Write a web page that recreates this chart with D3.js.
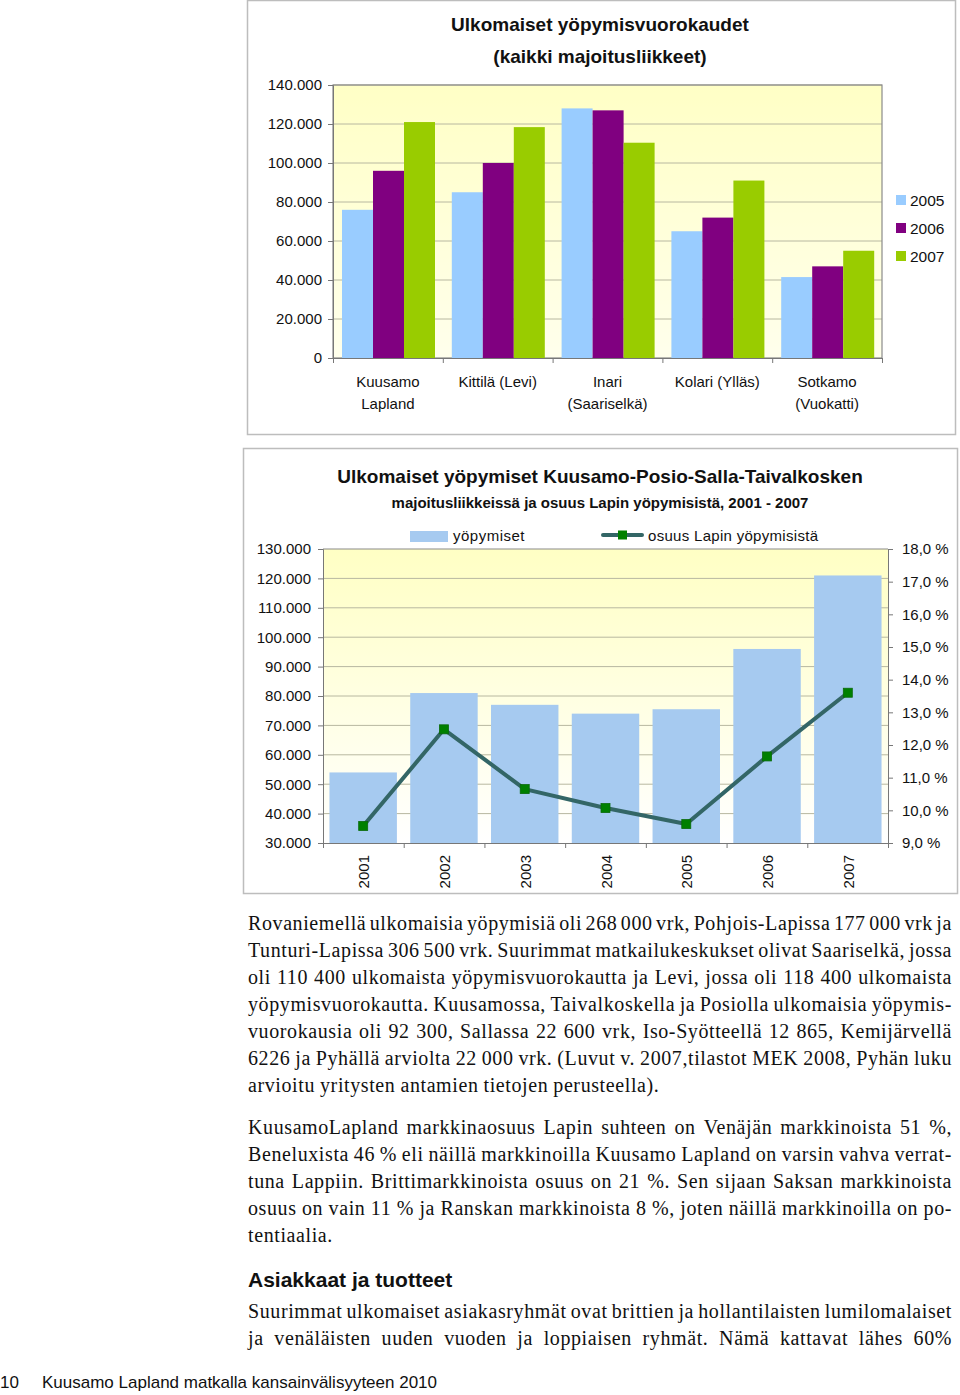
<!DOCTYPE html>
<html>
<head>
<meta charset="utf-8">
<script src="https://cdn.jsdelivr.net/npm/d3@7"></script>
<style>
  body { margin: 0; background: #fff; }
  svg { display: block; }
</style>
</head>
<body>
<svg id="page"></svg>
<script>
// chart 1 data
let places = [['Kuusamo', 'Lapland'], ['Kittilä (Levi)'], ['Inari', '(Saariselkä)'], ['Kolari (Ylläs)'], ['Sotkamo', '(Vuokatti)']]
let years1 = ['2005', '2006', '2007']
let v2005 = [76000, 85000, 128000, 65000, 41500]
let v2006 = [96000, 100000, 127000, 72000, 47000]
let v2007 = [121000, 118400, 110400, 91000, 55000]
let ticks1 = [0, 20000, 40000, 60000, 80000, 100000, 120000, 140000]

// chart 2 data
let years2 = ['2001', '2002', '2003', '2004', '2005', '2006', '2007']
let stays = [54000, 81000, 77000, 74000, 75500, 96000, 121000]
let share = [9.52, 12.48, 10.65, 10.07, 9.58, 11.65, 13.6]
let ticks2 = [30000, 40000, 50000, 60000, 70000, 80000, 90000, 100000, 110000, 120000, 130000]
let ticks2r = [9, 10, 11, 12, 13, 14, 15, 16, 17, 18]

// body text
let para1 = [
  'Rovaniemellä ulkomaisia yöpymisiä oli 268 000 vrk, Pohjois-Lapissa 177 000 vrk ja',
  'Tunturi-Lapissa 306 500 vrk. Suurimmat matkailukeskukset olivat Saariselkä, jossa',
  'oli 110 400 ulkomaista yöpymisvuorokautta ja Levi, jossa oli 118 400 ulkomaista',
  'yöpymisvuorokautta. Kuusamossa, Taivalkoskella ja Posiolla ulkomaisia yöpymis-',
  'vuorokausia oli 92 300, Sallassa 22 600 vrk, Iso-Syötteellä 12 865, Kemijärvellä',
  '6226 ja Pyhällä arviolta 22 000 vrk. (Luvut v. 2007,tilastot MEK 2008, Pyhän luku',
  'arvioitu yritysten antamien tietojen perusteella).'
]
let para2 = [
  'KuusamoLapland markkinaosuus Lapin suhteen on Venäjän markkinoista 51 %,',
  'Beneluxista 46 % eli näillä markkinoilla Kuusamo Lapland on varsin vahva verrat-',
  'tuna Lappiin. Brittimarkkinoista osuus on 21 %. Sen sijaan Saksan markkinoista',
  'osuus on vain 11 % ja Ranskan markkinoista 8 %, joten näillä markkinoilla on po-',
  'tentiaalia.'
]
let para3 = [
  'Suurimmat ulkomaiset asiakasryhmät ovat brittien ja hollantilaisten lumilomalaiset',
  'ja venäläisten uuden vuoden ja loppiaisen ryhmät. Nämä kattavat lähes 60%'
]

let width = 960
let height = 1395
let sans = 'Liberation Sans, Arial, sans-serif'
let serif = 'Liberation Serif, Times New Roman, serif'

let svg = d3.select('#page').attr('width', width).attr('height', height)
let defs = svg.append('defs')
let grad = defs.append('linearGradient').attr('id', 'bg').attr('x1', 0).attr('y1', 0).attr('x2', 0).attr('y2', 1)
grad.append('stop').attr('offset', '0%').attr('stop-color', '#ffffc4')
grad.append('stop').attr('offset', '100%').attr('stop-color', '#ffffff')

let fmt = (d) => d === 0 ? '0' : d3.format(',')(d).replace(/,/g, '.')

// ---------- chart 1 ----------
let drawChart1 = () => {
  let left = 333, right = 882, top = 85, bottom = 358
  svg.append('rect').attr('x', 247.5).attr('y', 0.5).attr('width', 708).attr('height', 434)
    .attr('fill', '#fff').attr('stroke', '#bdbdbd').attr('stroke-width', 1.5)

  let xScale = d3.scaleBand().domain(d3.range(places.length)).range([left, right])
  let yScale = d3.scaleLinear().domain([0, 140000]).range([bottom, top])
  let inner = d3.scaleBand().domain(years1).range([0, 93])
  let g = svg.append('g')

  g.append('rect').attr('x', left).attr('y', top).attr('width', right - left).attr('height', bottom - top)
    .attr('fill', 'url(#bg)')
  g.append('rect').attr('x', left).attr('y', top).attr('width', right - left).attr('height', bottom - top)
    .attr('fill', '#ffffc8').attr('opacity', 0.35)

  g.selectAll('.grid1').data(ticks1.slice(1)).enter().append('line')
    .attr('x1', left).attr('x2', right)
    .attr('y1', (d) => yScale(d)).attr('y2', (d) => yScale(d))
    .attr('stroke', '#b8b8a0').attr('stroke-width', 1)
  g.append('rect').attr('x', left).attr('y', top).attr('width', right - left).attr('height', bottom - top)
    .attr('fill', 'none').attr('stroke', '#8a8a8a').attr('stroke-width', 1.2)

  let series = [v2005, v2006, v2007]
  let colors = ['#99ccff', '#800080', '#99cc00']
  series.forEach((vals, s) => {
    g.selectAll('.bar' + s).data(vals).enter().append('rect')
      .attr('x', (d, i) => xScale(i) + 9 + inner(years1[s]))
      .attr('y', (d) => yScale(d))
      .attr('width', inner.bandwidth())
      .attr('height', (d) => bottom - yScale(d))
      .attr('fill', colors[s])
  })

  let yAxis = d3.axisLeft(yScale).tickValues(ticks1).tickFormat(fmt).tickSize(5)
  let ya = svg.append('g').attr('transform', 'translate(' + left + ',0)').call(yAxis)
  ya.select('.domain').attr('stroke', '#777')
  ya.selectAll('.tick line').attr('stroke', '#777')
  ya.selectAll('text').attr('font-family', sans).attr('font-size', 15).attr('fill', '#111').attr('x', -11)

  let xAxis = d3.axisBottom(d3.scaleLinear().domain([0, 5]).range([left, right])).ticks(5).tickSize(5).tickFormat('')
  let xa = svg.append('g').attr('transform', 'translate(0,' + bottom + ')').call(xAxis)
  xa.select('.domain').attr('stroke', '#777')
  xa.selectAll('.tick line').attr('stroke', '#777')

  places.forEach((lines, i) => {
    let t = svg.append('text').attr('font-family', sans).attr('font-size', 15).attr('fill', '#111')
      .attr('text-anchor', 'middle')
    lines.forEach((ln, k) => {
      t.append('tspan').attr('x', xScale(i) + xScale.bandwidth() / 2).attr('y', 387 + k * 22).text(ln)
    })
  })

  svg.append('text').attr('x', 600).attr('y', 31).attr('text-anchor', 'middle')
    .attr('font-family', sans).attr('font-weight', 'bold').attr('font-size', 19).attr('fill', '#111')
    .text('Ulkomaiset yöpymisvuorokaudet')
  svg.append('text').attr('x', 600).attr('y', 63).attr('text-anchor', 'middle')
    .attr('font-family', sans).attr('font-weight', 'bold').attr('font-size', 19).attr('fill', '#111')
    .text('(kaikki majoitusliikkeet)')

  years1.forEach((yr, s) => {
    svg.append('rect').attr('x', 896).attr('y', 195 + s * 28).attr('width', 10).attr('height', 10).attr('fill', colors[s])
    svg.append('text').attr('x', 910).attr('y', 206 + s * 28).attr('font-family', sans).attr('font-size', 15.5)
      .attr('fill', '#111').text(yr)
  })
}

// ---------- chart 2 ----------
let drawChart2 = () => {
  let left = 323, right = 888, top = 549, bottom = 843
  svg.append('rect').attr('x', 243.5).attr('y', 448.5).attr('width', 714).attr('height', 445)
    .attr('fill', '#fff').attr('stroke', '#bdbdbd').attr('stroke-width', 1.5)

  let xScale = d3.scaleBand().domain(years2).range([left, right]).paddingInner(0.165).paddingOuter(0.08)
  let yScale = d3.scaleLinear().domain([30000, 130000]).range([bottom, top])
  let rScale = d3.scaleLinear().domain([9, 18]).range([bottom, top])

  svg.append('rect').attr('x', left).attr('y', top).attr('width', right - left).attr('height', bottom - top)
    .attr('fill', 'url(#bg)')
  svg.selectAll('.grid2').data(ticks2.slice(1, -1)).enter().append('line')
    .attr('x1', left).attr('x2', right)
    .attr('y1', (d) => yScale(d)).attr('y2', (d) => yScale(d))
    .attr('stroke', '#b8b8a0').attr('stroke-width', 1)
  svg.append('line').attr('x1', left).attr('x2', right).attr('y1', top).attr('y2', top)
    .attr('stroke', '#8a8a8a').attr('stroke-width', 1.2)

  svg.selectAll('.bar2').data(stays).enter().append('rect')
    .attr('x', (d, i) => xScale(years2[i]))
    .attr('y', (d) => yScale(d))
    .attr('width', xScale.bandwidth())
    .attr('height', (d) => bottom - yScale(d))
    .attr('fill', '#a6caf0')

  let cx = (i) => xScale(years2[i]) + xScale.bandwidth() / 2
  let line = d3.line().x((d, i) => cx(i)).y((d) => rScale(d))
  svg.append('path').datum(share).attr('d', line).attr('fill', 'none')
    .attr('stroke', '#336666').attr('stroke-width', 4).attr('stroke-linejoin', 'round')
  svg.selectAll('.mark').data(share).enter().append('rect')
    .attr('x', (d, i) => cx(i) - 4.5).attr('y', (d) => rScale(d) - 4.5)
    .attr('width', 9).attr('height', 9).attr('fill', '#008000').attr('stroke', '#0a6a0a').attr('stroke-width', 0.8)

  let yAxis = d3.axisLeft(yScale).tickValues(ticks2).tickFormat(fmt).tickSize(5)
  let ya = svg.append('g').attr('transform', 'translate(' + left + ',0)').call(yAxis)
  ya.select('.domain').attr('stroke', '#777')
  ya.selectAll('.tick line').attr('stroke', '#777')
  ya.selectAll('text').attr('font-family', sans).attr('font-size', 15).attr('fill', '#111').attr('x', -12)

  let rAxis = d3.axisRight(rScale).tickValues(ticks2r).tickFormat((d) => d3.format('.1f')(d).replace('.', ',') + ' %').tickSize(5)
  let ra = svg.append('g').attr('transform', 'translate(' + right + ',0)').call(rAxis)
  ra.select('.domain').attr('stroke', '#777')
  ra.selectAll('.tick line').attr('stroke', '#777')
  ra.selectAll('text').attr('font-family', sans).attr('font-size', 15).attr('fill', '#111').attr('x', 14)

  let xAxis = d3.axisBottom(d3.scaleLinear().domain([0, 7]).range([left, right])).ticks(7).tickSize(5).tickFormat('')
  let xa = svg.append('g').attr('transform', 'translate(0,' + bottom + ')').call(xAxis)
  xa.select('.domain').attr('stroke', '#777')
  xa.selectAll('.tick line').attr('stroke', '#777')

  svg.selectAll('.yr').data(years2).enter().append('text')
    .attr('transform', (d, i) => 'translate(' + (cx(i) + 6) + ',855) rotate(-90)')
    .attr('text-anchor', 'end').attr('font-family', sans).attr('font-size', 15).attr('fill', '#111')
    .text((d) => d)

  svg.append('text').attr('x', 600).attr('y', 483).attr('text-anchor', 'middle')
    .attr('font-family', sans).attr('font-weight', 'bold').attr('font-size', 19).attr('fill', '#111')
    .text('Ulkomaiset yöpymiset Kuusamo-Posio-Salla-Taivalkosken')
  svg.append('text').attr('x', 600).attr('y', 508).attr('text-anchor', 'middle')
    .attr('font-family', sans).attr('font-weight', 'bold').attr('font-size', 15).attr('fill', '#111')
    .text('majoitusliikkeissä ja osuus Lapin yöpymisistä, 2001 - 2007')

  svg.append('rect').attr('x', 410).attr('y', 531).attr('width', 38).attr('height', 11).attr('fill', '#a6caf0')
  svg.append('text').attr('x', 453).attr('y', 541).attr('font-family', sans).attr('font-size', 15)
    .attr('letter-spacing', 0.5).attr('fill', '#111').text('yöpymiset')
  svg.append('line').attr('x1', 603).attr('x2', 642).attr('y1', 535).attr('y2', 535)
    .attr('stroke', '#336666').attr('stroke-width', 4).attr('stroke-linecap', 'round')
  svg.append('rect').attr('x', 618).attr('y', 530.5).attr('width', 9).attr('height', 9).attr('fill', '#008000')
  svg.append('text').attr('x', 648).attr('y', 541).attr('font-family', sans).attr('font-size', 15)
    .attr('letter-spacing', 0.3).attr('fill', '#111').text('osuus Lapin yöpymisistä')
}

// ---------- body text, justified line by line ----------
let drawPara = (lines, y0, justifyLast) => {
  let x0 = 248, x1 = 952, lh = 27
  lines.forEach((ln, k) => {
    let y = y0 + k * lh
    let last = k === lines.length - 1 && !justifyLast
    let words = ln.split(' ')
    let g = svg.append('g')
    let ts = words.map((w) => g.append('text').attr('y', y).attr('font-family', serif)
      .attr('font-size', 20).attr('letter-spacing', 0.6).attr('fill', '#111').text(w))
    let widths = ts.map((t) => t.node().getComputedTextLength())
    let total = d3.sum(widths)
    let gap = last || words.length < 2 ? 5 : (x1 - x0 - total) / (words.length - 1)
    let x = x0
    ts.forEach((t, i) => { t.attr('x', x); x += widths[i] + gap })
  })
}

drawChart1()
drawChart2()
drawPara(para1, 930, false)
drawPara(para2, 1134, false)
svg.append('text').attr('x', 248).attr('y', 1287).attr('font-family', sans).attr('font-weight', 'bold')
  .attr('font-size', 21).attr('fill', '#111').text('Asiakkaat ja tuotteet')
drawPara(para3, 1318, true)
svg.append('text').attr('x', 0).attr('y', 1388).attr('font-family', sans).attr('font-size', 17).attr('fill', '#111').text('10')
svg.append('text').attr('x', 42).attr('y', 1388).attr('font-family', sans).attr('font-size', 17).attr('fill', '#111')
  .text('Kuusamo Lapland matkalla kansainvälisyyteen 2010')
</script>
</body>
</html>
